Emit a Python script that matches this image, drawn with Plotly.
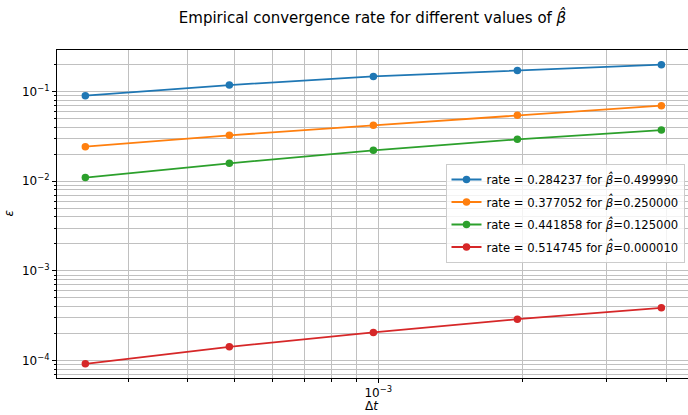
import plotly.graph_objects as go

# Data
dt = [1/4096, 1/2048, 1/1024, 1/512, 1/256]
err_b0 = [0.0902, 0.1186, 0.1481, 0.1728, 0.2000]
err_b1 = [0.02436, 0.03258, 0.04209, 0.05442, 0.06982]
err_b2 = [0.0110, 0.01587, 0.02216, 0.02939, 0.03731]
err_b3 = [9.19e-5, 1.421e-4, 2.057e-4, 2.894e-4, 3.869e-4]
rates = ["0.284237", "0.377052", "0.441858", "0.514745"]
betas = ["0.499990", "0.250000", "0.125000", "0.000010"]
series = [err_b0, err_b1, err_b2, err_b3]
colors = ["#1f77b4", "#ff7f0e", "#2ca02c", "#d62728"]

x_major = [1e-3]
x_major_text = ["10<sup>\u22123</sup>"]
x_minor = [3e-4, 4e-4, 5e-4, 6e-4, 7e-4, 8e-4, 9e-4, 2e-3, 3e-3, 4e-3]
y_major = [1e-4, 1e-3, 1e-2, 1e-1]
y_major_text = ["10<sup>\u22124</sup>", "10<sup>\u22123</sup>", "10<sup>\u22122</sup>", "10<sup>\u22121</sup>"]
y_minor = [m * 10.0 ** e for e in (-5, -4, -3, -2, -1) for m in range(2, 10)]

BETA_HAT = "<i>\u03b2\u0302</i>"

fig = go.Figure()
for i, (vals, c) in enumerate(zip(series, colors)):
    fig.add_trace(go.Scatter(
        x=dt, y=vals, mode="lines+markers",
        name=f"rate = {rates[i]} for {BETA_HAT}={betas[i]}",
        line=dict(color=c, width=1.8),
        marker=dict(color=c, size=7.5),
        legendgroup=f"g{i}",
    ))

FONT = "DejaVu Sans"
grid = "#c0c0c0"
W, H = 688, 415
fig.update_layout(
    width=W, height=H,
    margin=dict(l=57, r=0, t=50, b=37, autoexpand=False),
    paper_bgcolor="white", plot_bgcolor="white",
    font=dict(family=FONT, size=12, color="black"),
    title=dict(text=f"Empirical convergence rate for different values of {BETA_HAT}",
               x=0.5, xref="paper", y=1 - 17.5 / H, yref="container",
               xanchor="center", yanchor="middle", font=dict(size=15, family=FONT)),
    showlegend=True,
    legend=dict(x=(684.5 - 57) / 631, y=1 - (164 - 50) / 328, xanchor="right", yanchor="top",
                bgcolor="rgba(255,255,255,0.8)", bordercolor="#cccccc", borderwidth=1,
                font=dict(size=11.6, family=FONT), tracegroupgap=3.5, itemwidth=30),
    annotations=[
        dict(text="\u0394<i>t</i>", x=(372 - 57) / 631, y=-(406 - 378) / 328, xref="paper", yref="paper",
             xanchor="center", yanchor="middle", showarrow=False, font=dict(size=12, family=FONT)),
        dict(text="<i>\u03b5</i>", x=-(57 - 8.5) / 631, y=1 - (213 - 50) / 328, xref="paper", yref="paper",
             xanchor="center", yanchor="middle", showarrow=False, textangle=-90,
             font=dict(size=12, family=FONT)),
    ],
)
fig.update_xaxes(
    type="log", range=[-3.6716, -2.3526], automargin=False,
    tickmode="array", tickvals=x_major, ticktext=x_major_text,
    ticks="outside", ticklen=4, tickwidth=1, tickcolor="black",
    showgrid=True, gridcolor=grid, gridwidth=1,
    showline=True, linecolor="black", linewidth=1, mirror=True,
    zeroline=False,
    minor=dict(tickmode="array", tickvals=x_minor, ticks="outside", ticklen=2.5,
               tickcolor="black", showgrid=True, gridcolor=grid, gridwidth=1),
)
fig.update_yaxes(
    type="log", range=[-4.195, -0.535], automargin=False,
    tickmode="array", tickvals=y_major, ticktext=y_major_text,
    ticks="outside", ticklen=4, tickwidth=1, tickcolor="black",
    showgrid=True, gridcolor=grid, gridwidth=1,
    showline=True, linecolor="black", linewidth=1, mirror=False,
    zeroline=False,
    minor=dict(tickmode="array", tickvals=y_minor, ticks="outside", ticklen=2.5,
               tickcolor="black", showgrid=True, gridcolor=grid, gridwidth=1),
)

fig.write_html("out.html", config={"displayModeBar": False},
               post_script="document.body.style.margin='0';document.body.style.overflow='hidden';")
